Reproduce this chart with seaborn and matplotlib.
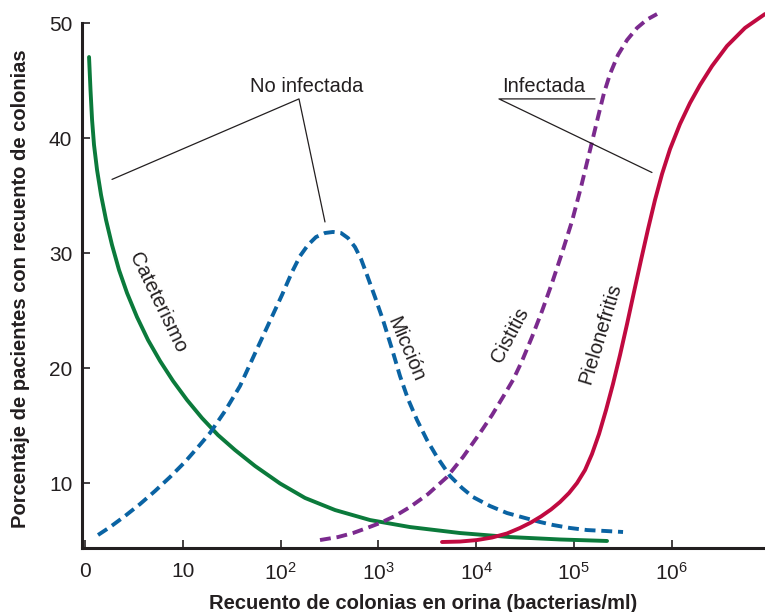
import numpy as np
import pandas as pd
import matplotlib
matplotlib.use("Agg")
import matplotlib.pyplot as plt
import seaborn as sns

# curves: log10 of colony count and % of patients
cateterismo_log10 = [0.038, 0.053, 0.069, 0.089, 0.120, 0.161, 0.212, 0.273, 0.345,
                     0.427, 0.529, 0.642, 0.765, 0.898, 1.041, 1.194, 1.358, 1.532,
                     1.737, 1.993, 2.249, 2.556, 2.914, 3.323, 3.835, 4.347, 4.859,
                     5.340]
cateterismo_pct = [47.04, 44.17, 41.57, 39.39, 37.22, 35.04, 32.87, 30.70, 28.52,
                   26.52, 24.43, 22.43, 20.61, 18.87, 17.22, 15.65, 14.17, 12.87,
                   11.48, 9.96, 8.70, 7.65, 6.78, 6.17, 5.65, 5.30, 5.09,
                   4.96]

miccion_log10 = [0.130, 0.253, 0.406, 0.560, 0.713, 0.867, 1.020, 1.154, 1.276,
                 1.430, 1.583, 1.757, 1.890, 2.013, 2.116, 2.198, 2.279, 2.361,
                 2.453, 2.535, 2.617, 2.689, 2.760, 2.822, 2.883, 2.965, 3.047,
                 3.139, 3.221, 3.303, 3.395, 3.497, 3.600, 3.733, 3.856, 3.968,
                 4.142, 4.316, 4.500, 4.654, 4.787, 4.961, 5.135, 5.319, 5.504]
miccion_pct = [5.48, 6.17, 7.13, 8.17, 9.30, 10.52, 11.83, 13.13, 14.35,
               16.26, 18.43, 21.65, 24.09, 26.35, 28.35, 29.74, 30.70, 31.39,
               31.74, 31.83, 31.74, 31.30, 30.52, 29.48, 28.09, 26.17, 24.17,
               21.65, 19.30, 17.30, 15.48, 13.74, 12.26, 10.61, 9.57, 8.78,
               8.0, 7.39, 6.96, 6.61, 6.35, 6.09, 5.91, 5.83, 5.74]

cistitis_log10 = [2.402, 2.586, 2.740, 2.883, 3.016, 3.170, 3.323, 3.508, 3.702,
                  3.866, 4.040, 4.163, 4.275, 4.378, 4.470, 4.572, 4.675, 4.777,
                  4.879, 4.982, 5.074, 5.176, 5.248, 5.309, 5.371, 5.452, 5.545,
                  5.647, 5.749, 5.852]
cistitis_pct = [5.04, 5.30, 5.65, 6.09, 6.52, 7.13, 7.91, 9.04, 10.52,
                12.26, 14.35, 15.91, 17.48, 18.96, 20.61, 22.70, 24.96, 27.39,
                30.0, 32.78, 35.74, 39.30, 41.83, 43.91, 45.57, 47.22, 48.52,
                49.57, 50.30, 50.78]

pielo_log10 = [3.651, 3.835, 4.009, 4.163, 4.316, 4.449, 4.562, 4.664, 4.767,
               4.859, 4.951, 5.033, 5.115, 5.186, 5.258, 5.330, 5.401, 5.473,
               5.545, 5.616, 5.688, 5.760, 5.831, 5.903, 5.985, 6.087, 6.189,
               6.292, 6.415, 6.568, 6.752, 6.957]
pielo_pct = [4.87, 4.91, 5.04, 5.26, 5.61, 6.09, 6.57, 7.09, 7.70,
             8.35, 9.13, 10.0, 11.13, 12.52, 14.26, 16.35, 18.61, 21.13,
             23.83, 26.61, 29.39, 32.09, 34.61, 36.87, 39.04, 41.22, 43.04,
             44.61, 46.26, 48.0, 49.57, 50.78]

series_names = ["Cateterismo", "Micción", "Cistitis", "Pielonefritis"]
tick_exps = [0, 1, 2, 3, 4, 5, 6]
tick_labels = ["0", "10", r"$\mathregular{10^{2}}$", r"$\mathregular{10^{3}}$",
               r"$\mathregular{10^{4}}$", r"$\mathregular{10^{5}}$", r"$\mathregular{10^{6}}$"]
y_ticks = [10, 20, 30, 40, 50]

colors = {"Cateterismo": "#0b7a3b", "Micción": "#0a63a3",
          "Cistitis": "#7b2a8e", "Pielonefritis": "#c00a40"}
dashes = {"Cateterismo": "", "Micción": (2.8, 1.5),
          "Cistitis": (2.8, 1.5), "Pielonefritis": ""}

frames = []
for name, xs, ys in zip(series_names,
                        [cateterismo_log10, miccion_log10, cistitis_log10, pielo_log10],
                        [cateterismo_pct, miccion_pct, cistitis_pct, pielo_pct]):
    frames.append(pd.DataFrame({"x": 10 ** np.array(xs), "y": ys, "curva": name}))
df = pd.concat(frames, ignore_index=True)

sns.set_style("ticks")
plt.rcParams["font.family"] = ["Liberation Sans", "DejaVu Sans"]
plt.rcParams["mathtext.fontset"] = "custom"
plt.rcParams["mathtext.rm"] = "Liberation Sans"

fig = plt.figure(figsize=(7.65, 6.12), dpi=100)
ax = fig.add_axes([0.1072, 0.1046, 0.8928, 0.8954])

sns.lineplot(data=df, x="x", y="y", hue="curva", style="curva",
             palette=colors, dashes=dashes, estimator=None, sort=False,
             linewidth=2.8, legend=False, ax=ax)

ax.set_xscale("log")
ax.set_xlim(10 ** -0.034, 10 ** 6.957)
ax.set_ylim(4.35, 52)
ax.set_xticks([10 ** e for e in tick_exps])
ax.set_xticklabels(tick_labels)
ax.xaxis.set_minor_locator(matplotlib.ticker.NullLocator())
ax.set_yticks(y_ticks)
ax.tick_params(axis="both", direction="in", length=6, width=1.2,
               labelsize=15, colors="#231f20")
ax.tick_params(axis="x", pad=10)
ax.tick_params(axis="y", pad=7)

for side in ["top", "right"]:
    ax.spines[side].set_visible(False)
for side in ["left", "bottom"]:
    ax.spines[side].set_linewidth(2.2)
    ax.spines[side].set_color("#231f20")
ax.spines["left"].set_bounds(4.35, 50)

ax.set_xlabel("")
ax.set_ylabel("")
fig.text(0.5536, 0.0147, "Recuento de colonias en orina (bacterias/ml)",
         ha="center", va="center", fontsize=14.5, fontweight="bold", color="#231f20")
fig.text(0.027, 0.528, "Porcentaje de pacientes con recuento de colonias",
         ha="center", va="center", rotation=90, fontsize=14.5, fontweight="bold",
         color="#231f20")

# curve labels
txt = dict(fontsize=14.5, color="#231f20", ha="center", va="center",
           rotation_mode="anchor")
ax.text(10 ** 0.74, 25.7, "Cateterismo", rotation=-64, **txt)
ax.text(10 ** 3.28, 21.6, "Micción", rotation=-67, **txt)
ax.text(10 ** 4.35, 22.9, "Cistitis", rotation=62, **txt)
ax.text(10 ** 5.27, 23.0, "Pielonefritis", rotation=73, **txt)

# leader lines
lw = 0.9
lc = "#231f20"
ax.text(10 ** 2.27, 44.0, "No infectada", fontsize=14.5, color=lc,
        ha="center", va="baseline")
ax.plot([10 ** 0.273, 10 ** 2.187, 10 ** 2.453], [36.4, 43.4, 32.7], color=lc, lw=lw)
ax.text(10 ** 4.265, 44.0, "Infectada", fontsize=14.5, color=lc,
        ha="left", va="baseline")
ax.plot([10 ** 5.217, 10 ** 4.234, 10 ** 5.80], [43.4, 43.4, 37.0], color=lc, lw=lw)

fig.savefig("out.png", dpi=100)
